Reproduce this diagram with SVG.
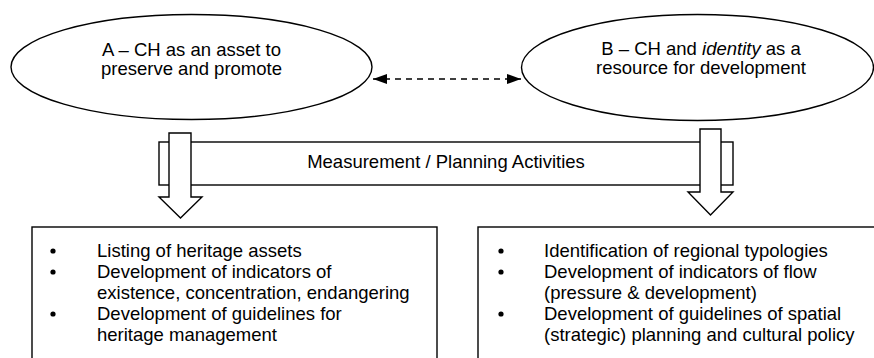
<svg xmlns="http://www.w3.org/2000/svg" width="874" height="358" viewBox="0 0 874 358">
  <style>
    .shape { fill: #fff; stroke: #000; stroke-width: 1.4; }
    .txt { font-family: "Liberation Sans", Arial, sans-serif; font-size: 18.5px; fill: #000; }
    .mid { text-anchor: middle; }
    .dash { fill: none; stroke: #000; stroke-width: 1.4; stroke-dasharray: 6 5; }
  </style>
  <defs>
    <marker id="head" viewBox="0 0 14 10" refX="14" refY="5" markerWidth="14" markerHeight="10" markerUnits="userSpaceOnUse" orient="auto-start-reverse">
      <path d="M0,0 L14,5 L0,10 Z" fill="#000"/>
    </marker>
  </defs>
  <rect width="874" height="358" fill="#fff"/>

  <!-- Approach A -->
  <g id="node-a">
    <ellipse class="shape" cx="191.5" cy="67" rx="180.5" ry="52.5"/>
    <text class="txt mid" x="191.5" y="56">A – CH as an asset to</text>
    <text class="txt mid" x="191.5" y="75">preserve and promote</text>
  </g>

  <!-- Approach B -->
  <g id="node-b">
    <ellipse class="shape" cx="697.5" cy="67.5" rx="176" ry="53"/>
    <text class="txt mid" x="701" y="55">B – CH and <tspan font-style="italic">identity</tspan> as a</text>
    <text class="txt mid" x="701" y="74">resource for development</text>
  </g>

  <!-- Shared measurement / planning band -->
  <g id="node-activities">
    <rect class="shape" x="159" y="142" width="574" height="43"/>
    <text class="txt mid" x="446" y="168">Measurement / Planning Activities</text>
  </g>

  <!-- Connectors -->
  <g id="connectors">
    <line class="dash" x1="373" y1="79" x2="521" y2="79" marker-start="url(#head)" marker-end="url(#head)"/>
    <path class="shape" d="M169,133 H191 V197 H202 L180.5,218 L159,197 H169 Z"/>
    <path class="shape" d="M700,129 H721 V192 H733 L710.5,215 L688,192 H700 Z"/>
  </g>

  <!-- Tasks under A -->
  <g id="node-tasks-a">
    <rect class="shape" x="32" y="227" width="405" height="140"/>
    <g class="txt">
      <circle cx="53" cy="251" r="2.6"/>
      <text x="97" y="257">Listing of heritage assets</text>
      <circle cx="53" cy="272" r="2.6"/>
      <text x="97" y="278">Development of indicators of</text>
      <text x="97" y="299">existence, concentration, endangering</text>
      <circle cx="53" cy="314" r="2.6"/>
      <text x="97" y="320">Development of guidelines for</text>
      <text x="97" y="341">heritage management</text>
    </g>
  </g>

  <!-- Tasks under B -->
  <g id="node-tasks-b">
    <rect class="shape" x="478" y="227" width="410" height="140"/>
    <g class="txt">
      <circle cx="501" cy="251" r="2.6"/>
      <text x="544" y="257">Identification of regional typologies</text>
      <circle cx="501" cy="272" r="2.6"/>
      <text x="544" y="278">Development of indicators of flow</text>
      <text x="544" y="299">(pressure &amp; development)</text>
      <circle cx="501" cy="314" r="2.6"/>
      <text x="544" y="320">Development of guidelines of spatial</text>
      <text x="544" y="341">(strategic) planning and cultural policy</text>
    </g>
  </g>
</svg>
